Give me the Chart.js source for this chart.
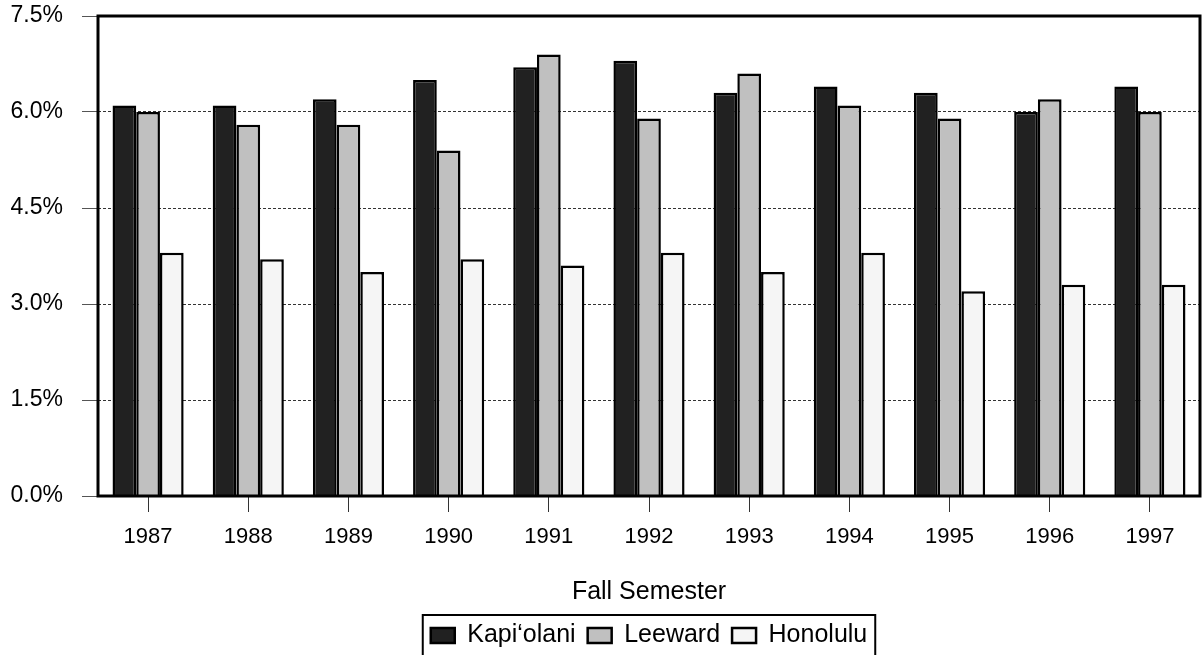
<!DOCTYPE html>
<html>
<head>
<meta charset="utf-8">
<script src="https://cdn.jsdelivr.net/npm/chart.js@4/dist/chart.umd.min.js"></script>
<style>
  html, body { margin: 0; padding: 0; background: #fff; }
  #wrap { width: 1202px; height: 655px; position: relative; }
</style>
</head>
<body>
<div id="wrap"><canvas id="c" width="1202" height="655"></canvas></div>
<script>
const years = ['1987','1988','1989','1990','1991','1992','1993','1994','1995','1996','1997'];
const kapiolani = [6.1, 6.1, 6.2, 6.5, 6.7, 6.8, 6.3, 6.4, 6.3, 6.0, 6.4];
const leeward   = [6.0, 5.8, 5.8, 5.4, 6.9, 5.9, 6.6, 6.1, 5.9, 6.2, 6.0];
const honolulu  = [3.8, 3.7, 3.5, 3.7, 3.6, 3.8, 3.5, 3.8, 3.2, 3.3, 3.3];
const seriesNames = ['Kapi\u2018olani', 'Leeward', 'Honolulu'];
const yTicks = [0, 1.5, 3.0, 4.5, 6.0, 7.5];
const xTitle = 'Fall Semester';

const FONT = '"Liberation Sans", Arial, sans-serif';

const frame = {
  id: 'frame',
  afterDraw(chart) {
    const {ctx, chartArea: a} = chart;
    ctx.save();
    ctx.strokeStyle = '#000';
    ctx.lineWidth = 3;
    ctx.strokeRect(a.left, a.top, a.right - a.left, a.bottom - a.top);
    // legend border
    const lg = chart.legend;
    if (lg && lg.legendHitBoxes && lg.legendHitBoxes.length) {
      const hb = lg.legendHitBoxes;
      let l = Infinity, r = -Infinity, t = Infinity;
      hb.forEach(h => { l = Math.min(l, h.left); r = Math.max(r, h.left + h.width); t = Math.min(t, h.top); });
      ctx.lineWidth = 2;
      ctx.strokeRect(l - 8, t - 8, (r - l) + 16, 80);
    }
    ctx.restore();
  }
};

new Chart(document.getElementById('c'), {
  type: 'bar',
  data: {
    labels: years,
    datasets: [
      { label: seriesNames[0], data: kapiolani, backgroundColor: '#212121', borderColor: '#000', borderWidth: 2.5 },
      { label: seriesNames[1], data: leeward,   backgroundColor: '#c0c0c0', borderColor: '#000', borderWidth: 2.5 },
      { label: seriesNames[2], data: honolulu,  backgroundColor: '#f5f5f5', borderColor: '#000', borderWidth: 2.5 }
    ]
  },
  options: {
    responsive: false,
    animation: false,
    devicePixelRatio: 1,
    layout: { padding: { top: 16, right: 2, left: 0, bottom: -3 } },
    datasets: { bar: { categoryPercentage: 0.71, barPercentage: 1.0 } },
    plugins: {
      legend: {
        position: 'bottom',
        fullSize: false,
        labels: {
          font: { family: FONT, size: 25 },
          color: '#000',
          boxWidth: 24,
          boxHeight: 15,
          padding: 12
        }
      },
      tooltip: { enabled: false }
    },
    scales: {
      x: {
        grid: { offset: false, drawOnChartArea: false, drawTicks: true, tickLength: 16, tickColor: '#333', tickWidth: 1 },
        border: { display: false },
        ticks: { font: { family: FONT, size: 22 }, color: '#000', padding: 12, maxRotation: 0 },
        title: { display: true, text: xTitle, font: { family: FONT, size: 25 }, color: '#000', padding: { top: 0, bottom: 4 } },
        afterFit(scale) { scale.height = 115; scale.paddingLeft = 0; scale.paddingRight = 0; }
      },
      y: {
        min: 0, max: 7.5,
        afterBuildTicks(scale) { scale.ticks = yTicks.map(v => ({ value: v })); },
        grid: { color: '#333', lineWidth: 1, tickLength: 16, tickColor: '#555', tickWidth: 1, tickBorderDash: [], drawTicks: true },
        border: { display: false, dash: [3, 2] },
        ticks: { font: { family: FONT, size: 23 }, color: '#000', padding: 19, callback: v => Number(v).toFixed(1) + '%' },
        afterFit(scale) { scale.width = 98; scale.paddingTop = 0; scale.paddingBottom = 0; }
      }
    }
  },
  plugins: [frame]
});
</script>
</body>
</html>
